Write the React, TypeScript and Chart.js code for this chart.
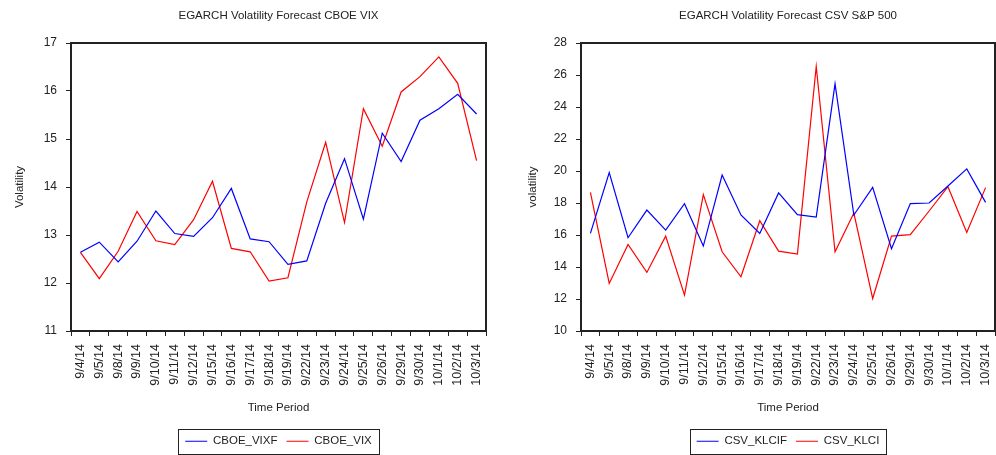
import React, { useEffect, useRef } from "react";
import { Chart, registerables } from "chart.js";

Chart.register(...registerables);

// ---------- data ----------
const dates = [
  "9/4/14", "9/5/14", "9/8/14", "9/9/14", "9/10/14", "9/11/14", "9/12/14",
  "9/15/14", "9/16/14", "9/17/14", "9/18/14", "9/19/14", "9/22/14", "9/23/14",
  "9/24/14", "9/25/14", "9/26/14", "9/29/14", "9/30/14", "10/1/14", "10/2/14", "10/3/14",
];

const cboeVixf = [
  12.64, 12.85, 12.44, 12.87, 13.5, 13.03, 12.97, 13.36, 13.97, 12.92, 12.86,
  12.39, 12.46, 13.66, 14.59, 13.33, 15.12, 14.53, 15.39, 15.63, 15.93, 15.52,
];
const cboeVix = [
  12.64, 12.09, 12.66, 13.49, 12.88, 12.8, 13.32, 14.12, 12.72, 12.65, 12.04,
  12.11, 13.69, 14.93, 13.26, 15.63, 14.85, 15.98, 16.3, 16.71, 16.16, 14.55,
];

const csvKlcif = [
  16.1, 19.9, 15.83, 17.56, 16.31, 17.96, 15.31, 19.75, 17.25, 16.1, 18.63,
  17.27, 17.12, 25.45, 17.25, 18.98, 15.14, 17.96, 18.0, 19.06, 20.13, 18.04,
];
const csvKlci = [
  18.67, 12.97, 15.41, 13.66, 15.93, 12.24, 18.52, 14.95, 13.39, 16.89, 14.99,
  14.81, 26.54, 14.95, 17.37, 12.03, 15.93, 16.02, 17.5, 19.02, 16.16, 18.96,
];

const leftAxis = { min: 11, max: 17, step: 1 };
const rightAxis = { min: 10, max: 28, step: 2 };

// ---------- styling ----------
const FONT = "'Liberation Sans', Arial, sans-serif";
const INK = "#222";

const framePlugin = {
  id: "frameAndLegendBox",
  afterDraw(chart: any) {
    const { ctx, chartArea: a } = chart;
    ctx.save();
    ctx.strokeStyle = INK;
    ctx.lineWidth = 2;
    const l = Math.round(a.left), t = Math.round(a.top);
    const r = Math.round(a.right), b = Math.round(a.bottom);
    ctx.strokeRect(l, t, r - l, b - t);
    const hb = chart.legend && chart.legend.legendHitBoxes;
    if (hb && hb.length) {
      let minL = Infinity, maxR = -Infinity;
      hb.forEach((h: any) => {
        minL = Math.min(minL, h.left);
        maxR = Math.max(maxR, h.left + h.width);
      });
      const cy = hb[0].top + hb[0].height / 2;
      ctx.lineWidth = 1;
      const x0 = Math.round(minL - 7) + 0.5;
      const x1 = Math.round(maxR + 7) + 0.5;
      const y0 = Math.round(cy - 12) + 0.5;
      const y1 = Math.round(cy + 13) + 0.5;
      ctx.strokeRect(x0, y0, x1 - x0, y1 - y0);
    }
    ctx.restore();
  },
};

type Cfg = {
  title: string;
  yTitle: string;
  yTitlePad: number;
  yWidth: number;
  padRight: number;
  axis: { min: number; max: number; step: number };
  names: [string, string];
  blue: number[];
  red: number[];
};

function makeConfig(c: Cfg): any {
  return {
    type: "line",
    data: {
      labels: dates,
      datasets: [
        {
          label: c.names[0],
          data: c.blue,
          borderColor: "#0000ff",
          backgroundColor: "#0000ff",
          borderWidth: 1.2,
          pointRadius: 0,
          tension: 0,
        },
        {
          label: c.names[1],
          data: c.red,
          borderColor: "#ff0000",
          backgroundColor: "#ff0000",
          borderWidth: 1.2,
          pointRadius: 0,
          tension: 0,
        },
      ],
    },
    options: {
      responsive: false,
      animation: false,
      devicePixelRatio: 1,
      layout: { padding: { top: 0, bottom: -2, left: 0, right: c.padRight } },
      plugins: {
        tooltip: { enabled: false },
        title: {
          display: true,
          text: c.title,
          fullSize: false,
          color: INK,
          font: { family: FONT, size: 11.5, weight: "normal" },
          padding: { top: 8.6, bottom: 20.6 },
        },
        legend: {
          display: true,
          position: "bottom",
          fullSize: false,
          labels: {
            usePointStyle: true,
            pointStyle: "line",
            pointStyleWidth: 22,
            padding: 9,
            color: INK,
            font: { family: FONT, size: 11.5 },
          },
        },
      },
      scales: {
        x: {
          type: "category",
          offset: true,
          afterFit(s: any) {
            s.height = 95.5;
            s.paddingLeft = 0;
            s.paddingRight = 0;
          },
          grid: {
            offset: true,
            drawOnChartArea: false,
            drawTicks: true,
            tickLength: 5,
            color: INK,
            lineWidth: 1,
          },
          border: { display: false },
          ticks: {
            autoSkip: false,
            minRotation: 90,
            maxRotation: 90,
            padding: 8,
            color: INK,
            font: { family: FONT, size: 12.5 },
          },
          title: {
            display: true,
            text: "Time Period",
            color: INK,
            font: { family: FONT, size: 11.5 },
            padding: { top: 0, bottom: 11.6 },
          },
        },
        y: {
          min: c.axis.min,
          max: c.axis.max,
          afterFit(s: any) {
            s.width = c.yWidth;
          },
          grid: {
            drawOnChartArea: false,
            drawTicks: true,
            tickLength: 5,
            color: INK,
            lineWidth: 1,
          },
          border: { display: false },
          ticks: {
            stepSize: c.axis.step,
            padding: 9,
            color: INK,
            font: { family: FONT, size: 12 },
          },
          title: {
            display: true,
            text: c.yTitle,
            color: INK,
            font: { family: FONT, size: 11.5 },
            padding: { top: c.yTitlePad, bottom: 0 },
          },
        },
      },
    },
    plugins: [framePlugin],
  };
}

function LineChart({ cfg, left }: { cfg: Cfg; left: number }) {
  const ref = useRef<HTMLCanvasElement | null>(null);
  useEffect(() => {
    if (!ref.current) return;
    const chart = new Chart(ref.current, makeConfig(cfg));
    return () => chart.destroy();
  }, []);
  return (
    <canvas
      ref={ref}
      width={498}
      height={455}
      style={{ position: "absolute", left, top: 0, width: 498, height: 455, display: "block" }}
    />
  );
}

const leftCfg: Cfg = {
  title: "EGARCH Volatility Forecast CBOE VIX",
  yTitle: "Volatility",
  yTitlePad: 13,
  yWidth: 71,
  padRight: 12,
  axis: leftAxis,
  names: ["CBOE_VIXF", "CBOE_VIX"],
  blue: cboeVixf,
  red: cboeVix,
};

const rightCfg: Cfg = {
  title: "EGARCH Volatility Forecast CSV S&P 500",
  yTitle: "volatility",
  yTitlePad: 28,
  yWidth: 83,
  padRight: 1,
  axis: rightAxis,
  names: ["CSV_KLCIF", "CSV_KLCI"],
  blue: csvKlcif,
  red: csvKlci,
};

export default function App() {
  return (
    <div style={{ position: "absolute", left: 0, top: 0, width: 996, height: 455, background: "#fff" }}>
      <LineChart cfg={leftCfg} left={0} />
      <LineChart cfg={rightCfg} left={498} />
    </div>
  );
}
